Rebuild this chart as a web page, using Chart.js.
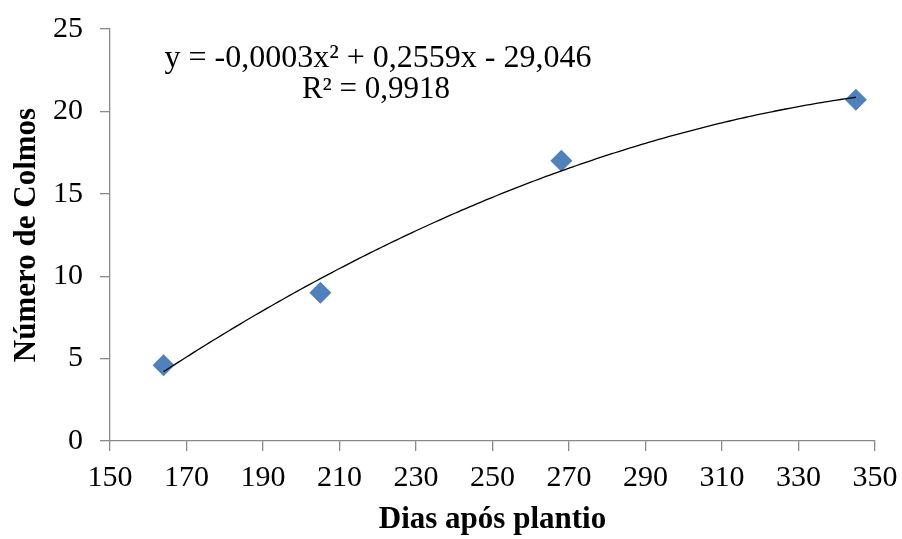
<!DOCTYPE html>
<html>
<head>
<meta charset="utf-8">
<script src="https://cdn.jsdelivr.net/npm/chart.js@4"></script>
<style>
	html, body { margin: 0; padding: 0; background: #fff; }
	#wrap { width: 902px; height: 539px; }
</style>
</head>
<body>
<div id="wrap"><canvas id="myChart"></canvas></div>
<script>
// Dados
const dias = [164, 205, 268, 345];
const colmos = [4.6, 9.0, 17.0, 20.7];
const xTicks = [150, 170, 190, 210, 230, 250, 270, 290, 310, 330, 350];
const yTicks = [0, 5, 10, 15, 20, 25];
const equacao = 'y = -0,0003x² + 0,2559x - 29,046';
const r2 = 'R² = 0,9918';

// Ajuste polinomial de 2º grau (mínimos quadrados), como a linha de tendência do Excel
function ajuste(xs, ys) {
	let s = [0, 0, 0, 0, 0], t = [0, 0, 0];
	xs.forEach((x, i) => {
		for (let k = 0; k < 5; k++) s[k] += Math.pow(x, k);
		for (let k = 0; k < 3; k++) t[k] += ys[i] * Math.pow(x, k);
	});
	const m = [
		[s[0], s[1], s[2], t[0]],
		[s[1], s[2], s[3], t[1]],
		[s[2], s[3], s[4], t[2]]
	];
	for (let i = 0; i < 3; i++) {
		for (let j = i + 1; j < 3; j++) {
			const f = m[j][i] / m[i][i];
			for (let k = i; k < 4; k++) m[j][k] -= f * m[i][k];
		}
	}
	const c = [0, 0, 0];
	for (let i = 2; i >= 0; i--) {
		let v = m[i][3];
		for (let k = i + 1; k < 3; k++) v -= m[i][k] * c[k];
		c[i] = v / m[i][i];
	}
	return c;
}

const coef = ajuste(dias, colmos);
const tendencia = [];
for (let x = dias[0]; x <= dias[dias.length - 1]; x += 1) {
	tendencia.push({ x: x, y: coef[0] + coef[1] * x + coef[2] * x * x });
}

const cinza = '#898989';
const fonte = '"Liberation Serif", "Times New Roman", serif';

const textoEquacao = {
	id: 'textoEquacao',
	afterDraw(chart) {
		const ctx = chart.ctx;
		ctx.save();
		ctx.fillStyle = '#000';
		ctx.font = '32px ' + fonte;
		ctx.textAlign = 'center';
		ctx.textBaseline = 'alphabetic';
		ctx.fillText(equacao, 378, 67);
		ctx.font = '31px ' + fonte;
		ctx.fillText(r2, 376, 98);
		ctx.restore();
	}
};

const config = {
	type: 'scatter',
	data: {
		datasets: [{
			label: 'Número de Colmos',
			data: dias.map((d, i) => ({ x: d, y: colmos[i] })),
			pointStyle: 'rectRot',
			pointRadius: 11,
			pointHoverRadius: 11,
			backgroundColor: '#4F81BD',
			borderColor: '#4F81BD',
			borderWidth: 0,
			order: 2
		}, {
			type: 'line',
			label: 'Polinomial',
			data: tendencia,
			borderColor: '#000',
			borderWidth: 1.3,
			pointRadius: 0,
			fill: false,
			tension: 0,
			order: 1
		}]
	},
	options: {
		responsive: true,
		maintainAspectRatio: false,
		animation: false,
		layout: {
			padding: { top: 29, right: 27, bottom: 0, left: 0 }
		},
		plugins: {
			legend: { display: false },
			tooltip: { enabled: false }
		},
		scales: {
			x: {
				type: 'linear',
				min: 150,
				max: 350,
				afterBuildTicks: (axis) => { axis.ticks = xTicks.map(v => ({ value: v })); },
				afterFit: (axis) => {
					axis.height = 98;
					axis.paddingLeft = 0;
					axis.paddingRight = 0;
				},
				border: { color: cinza, width: 1.3 },
				grid: { drawOnChartArea: false, color: cinza, tickLength: 10, lineWidth: 1.3 },
				ticks: { color: '#000', font: { family: fonte, size: 30 }, padding: 9, maxRotation: 0 },
				title: {
					display: true,
					text: 'Dias após plantio',
					color: '#000',
					font: { family: fonte, size: 31, weight: 'bold' },
					padding: { top: 0, bottom: 0 }
				}
			},
			y: {
				type: 'linear',
				min: 0,
				max: 25,
				afterBuildTicks: (axis) => { axis.ticks = yTicks.map(v => ({ value: v })); },
				afterFit: (axis) => {
					axis.width = 110;
					axis.paddingTop = 0;
					axis.paddingBottom = 0;
				},
				border: { color: cinza, width: 1.3 },
				grid: { drawOnChartArea: false, color: cinza, tickLength: 10, lineWidth: 1.3 },
				ticks: { color: '#000', font: { family: fonte, size: 30 }, padding: 17 },
				title: {
					display: true,
					text: 'Número de Colmos',
					color: '#000',
					font: { family: fonte, size: 31, weight: 'bold' },
					padding: { top: 8, bottom: 0 }
				}
			}
		}
	},
	plugins: [textoEquacao]
};

window.addEventListener('load', () => {
	new Chart(document.getElementById('myChart'), config);
});
</script>
</body>
</html>
